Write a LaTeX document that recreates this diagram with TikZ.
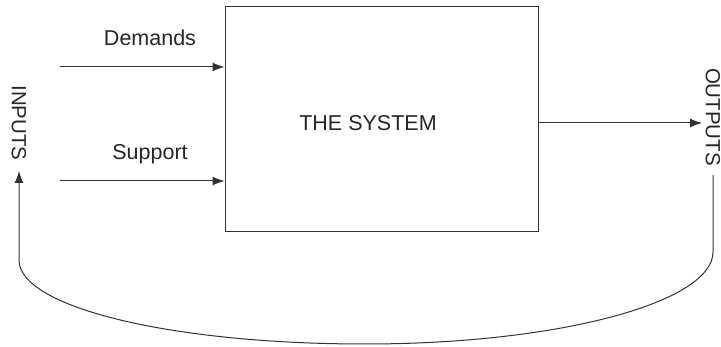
\documentclass[tikz,border=0pt]{standalone}
\usepackage{fontspec}
\setmainfont{Liberation Sans}
\usetikzlibrary{arrows.meta}
\begin{document}
\begin{tikzpicture}[x=1pt,y=-1pt,
  lbl/.style={font=\fontsize{21.5}{24}\selectfont, inner sep=0pt, text=black!85},
  vlbl/.style={font=\fontsize{20.5}{24}\selectfont, inner sep=0pt, text=black!85, rotate=-90},
  arr/.style={-{Latex[length=12pt,width=9pt]}, line width=1pt, draw=black!80},
  ln/.style={line width=1pt, draw=black!80}]
\useasboundingbox (0,0) rectangle (721,347);
\node[draw=black!80, line width=1pt, minimum width=313pt, minimum height=225pt, inner sep=0pt] (sys) at (381.5,119.5) {};
\node[lbl] (systxt) at (368,123) {THE SYSTEM};
\coordinate (d0) at (60,67);
\coordinate (s0) at (60,181);
\node[lbl, anchor=base] (dem) at (150,46) {Demands};
\node[lbl, anchor=base] (sup) at (150,160) {Support};
\draw[arr] (d0) -- (sys.west |- d0);
\draw[arr] (s0) -- (sys.west |- s0);
\coordinate (oe) at (702,123);
\draw[arr] (sys.east |- oe) -- (oe);
\node[vlbl] (inp) at (19,123) {INPUTS};
\node[vlbl] (outp) at (713,117) {OUTPUTS};
\coordinate (ostart) at (713,175);
\coordinate (iend) at (19,171);
\draw[arr] (ostart) -- (713,252) .. controls (713,302) and (560,344) .. (365,344)
  .. controls (170,344) and (19,307) .. (19,260) -- (iend);
\end{tikzpicture}
\end{document}
